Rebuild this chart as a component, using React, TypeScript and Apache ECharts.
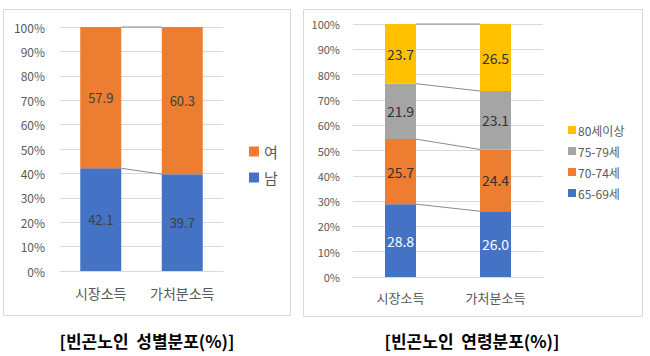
import React, { useEffect, useRef } from "react";
import * as echarts from "echarts";

const categories = ["시장소득", "가처분소득"];
const yTicks = [0, 10, 20, 30, 40, 50, 60, 70, 80, 90, 100];

// Left chart: gender distribution
const genderNames = ["남", "여"];
const male = [42.1, 39.7];
const female = [57.9, 60.3];

// Right chart: age distribution
const ageNames = ["65-69세", "70-74세", "75-79세", "80세이상"];
const age6569 = [28.8, 26.0];
const age7074 = [25.7, 24.4];
const age7579 = [21.9, 23.1];
const age80 = [23.7, 26.5];

const titleLeft = "[빈곤노인  성별분포(%)]";
const titleRight = "[빈곤노인  연령분포(%)]";

const FONT = "'Noto Sans CJK KR', 'Noto Sans', sans-serif";
const BLUE = "#4472C4";
const ORANGE = "#ED7D31";
const GRAY = "#A5A5A5";
const YELLOW = "#FFC000";

function cumulative(stacks: number[][]): number[][] {
  const res: number[][] = [];
  let a = 0;
  let b = 0;
  for (const s of stacks) {
    a += s[0];
    b += s[1];
    res.push([0, Math.min(a, 100), Math.min(b, 100)]);
  }
  return res;
}

function seriesLines(idx: number, data: number[][], barW: number) {
  return {
    type: "custom",
    xAxisIndex: idx,
    yAxisIndex: idx,
    silent: true,
    z: 1,
    encode: { x: 0, y: 1 },
    data,
    renderItem: (params: any, api: any) => {
      const p1 = api.coord([0, api.value(1)]);
      const p2 = api.coord([1, api.value(2)]);
      return {
        type: "line",
        shape: { x1: p1[0] + barW / 2, y1: p1[1], x2: p2[0] - barW / 2, y2: p2[1] },
        style: { stroke: "#8C8C8C", lineWidth: 1 },
      };
    },
  };
}

function barSeries(name: string, data: number[], idx: number, stack: string, color: string, barW: number, labelColor: string, fontSize: number) {
  return {
    type: "bar",
    name,
    data,
    stack,
    xAxisIndex: idx,
    yAxisIndex: idx,
    barWidth: barW,
    itemStyle: { color },
    z: 2,
    label: {
      show: true,
      position: "inside",
      color: labelColor,
      fontSize,
      fontFamily: FONT,
      formatter: (p: any) => Number(p.value).toFixed(1),
    },
  };
}

export default function App() {
  const ref = useRef<HTMLDivElement>(null);
  useEffect(() => {
    if (!ref.current) return;
    const chart = echarts.init(ref.current, null, { renderer: "svg" });
    const yAxisCommon = (idx: number, fs: number, margin: number) => ({
      type: "value",
      gridIndex: idx,
      min: yTicks[0],
      max: yTicks[yTicks.length - 1],
      interval: yTicks[1] - yTicks[0],
      axisLabel: { formatter: "{value}%", color: "#595959", fontSize: fs, fontFamily: FONT, margin },
      splitLine: { lineStyle: { color: "#D9D9D9" } },
      axisLine: { show: false },
      axisTick: { show: false },
    });
    const xAxisCommon = (idx: number, fs: number, margin: number) => ({
      type: "category",
      gridIndex: idx,
      data: categories,
      axisLabel: { color: "#595959", fontSize: fs, fontFamily: FONT, margin, interval: 0, hideOverlap: false },
      axisLine: { lineStyle: { color: "#D9D9D9" } },
      axisTick: { show: false },
    });
    const leftBoundaries = cumulative([male, female]);
    const rightBoundaries = cumulative([age6569, age7074, age7579, age80]);
    chart.setOption({
      animation: false,
      backgroundColor: "#fff",
      grid: [
        { left: 60, right: 427, top: 27, height: 244 },
        { left: 353, right: 107, top: 24, height: 253 },
      ],
      xAxis: [xAxisCommon(0, 14, 15), xAxisCommon(1, 13, 14)],
      yAxis: [yAxisCommon(0, 12, 15), yAxisCommon(1, 11, 13)],
      legend: [
        {
          data: [genderNames[1], genderNames[0]],
          orient: "vertical",
          left: 244,
          top: 139,
          itemWidth: 10,
          itemHeight: 10,
          itemGap: 11,
          icon: "rect",
          textStyle: { color: "#595959", fontSize: 15, fontFamily: FONT },
        },
        {
          data: [ageNames[3], ageNames[2], ageNames[1], ageNames[0]],
          orient: "vertical",
          left: 563,
          top: 119,
          itemWidth: 8,
          itemHeight: 8,
          itemGap: 9,
          icon: "rect",
          textStyle: { color: "#595959", fontSize: 12, fontFamily: FONT, padding: [0, 0, 0, -3] },
        },
      ],
      graphic: [
        { type: "rect", shape: { x: 3.5, y: 9.5, width: 287, height: 306 }, style: { fill: "none", stroke: "#D9D9D9", lineWidth: 1 }, z: -1 },
        { type: "rect", shape: { x: 303.5, y: 9.5, width: 339, height: 307 }, style: { fill: "none", stroke: "#D9D9D9", lineWidth: 1 }, z: -1 },
        { type: "text", x: 147, y: 340, style: { text: titleLeft, fill: "#000", font: `bold 17px ${FONT}`, align: "center", verticalAlign: "middle" } },
        { type: "text", x: 472, y: 340, style: { text: titleRight, fill: "#000", font: `bold 17px ${FONT}`, align: "center", verticalAlign: "middle" } },
      ],
      series: [
        barSeries(genderNames[0], male, 0, "g", BLUE, 41, "#404040", 13),
        barSeries(genderNames[1], female, 0, "g", ORANGE, 41, "#404040", 13),
        seriesLines(0, leftBoundaries, 41),
        barSeries(ageNames[0], age6569, 1, "a", BLUE, 31, "#FFFFFF", 14),
        barSeries(ageNames[1], age7074, 1, "a", ORANGE, 31, "#333333", 14),
        barSeries(ageNames[2], age7579, 1, "a", GRAY, 31, "#333333", 14),
        barSeries(ageNames[3], age80, 1, "a", YELLOW, 31, "#333333", 14),
        seriesLines(1, rightBoundaries, 31),
      ],
    });
    return () => chart.dispose();
  }, []);
  return <div ref={ref} style={{ position: "fixed", left: 0, top: 0, width: 650, height: 356 }} />;
}
